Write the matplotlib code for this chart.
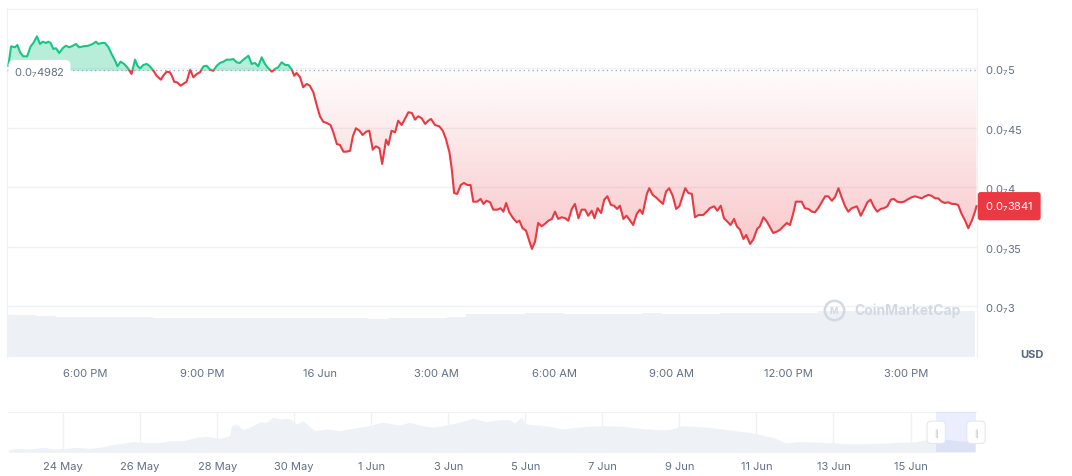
import numpy as np
import matplotlib
matplotlib.use("Agg")
import matplotlib.pyplot as plt
import matplotlib.transforms as mtransforms
from matplotlib.patches import Rectangle

# Precio en unidades de 1e-8 USD (la etiqueta "0.0₇4982" = 0.00000004982)
# Horas contadas desde el 15 Jun 00:00
hours = [
    16.04, 16.11, 16.21, 16.27, 16.34, 16.42, 16.52, 16.61, 16.68, 16.77,
    16.85, 16.92, 17.00, 17.06, 17.12, 17.19, 17.26, 17.34, 17.43, 17.51,
    17.60, 17.69, 17.77, 17.85, 17.96, 18.08, 18.20, 18.28, 18.34, 18.43,
    18.51, 18.60, 18.68, 18.77, 18.83, 18.91, 19.00, 19.08, 19.19, 19.28,
    19.34, 19.41, 19.49, 19.58, 19.66, 19.75, 19.83, 19.94, 20.00, 20.09,
    20.17, 20.22, 20.28, 20.35, 20.45, 20.51, 20.60, 20.69, 20.77, 20.86,
    20.94, 21.03, 21.11, 21.20, 21.28, 21.37, 21.45, 21.54, 21.62, 21.73,
    21.79, 21.88, 21.96, 22.05, 22.18, 22.26, 22.35, 22.43, 22.52, 22.60,
    22.69, 22.78, 22.86, 22.94, 23.03, 23.12, 23.20, 23.29, 23.35, 23.41,
    23.50, 23.58, 23.67, 23.75, 23.84, 23.93, 24.01, 24.09, 24.18, 24.28,
    24.35, 24.44, 24.52, 24.61, 24.69, 24.78, 24.85, 24.93, 25.02, 25.10,
    25.19, 25.27, 25.36, 25.44, 25.53, 25.60, 25.70, 25.76, 25.84, 25.93,
    26.01, 26.10, 26.18, 26.27, 26.36, 26.44, 26.52, 26.61, 26.70, 26.78,
    26.85, 26.95, 27.06, 27.15, 27.23, 27.32, 27.38, 27.44, 27.52, 27.61,
    27.69, 27.78, 27.86, 27.93, 28.03, 28.12, 28.19, 28.27, 28.36, 28.44,
    28.55, 28.63, 28.70, 28.77, 28.85, 28.95, 29.04, 29.11, 29.19, 29.28,
    29.36, 29.43, 29.51, 29.59, 29.68, 29.76, 29.85, 29.94, 30.02, 30.10,
    30.19, 30.28, 30.36, 30.45, 30.53, 30.62, 30.70, 30.79, 30.87, 30.96,
    31.03, 31.11, 31.20, 31.28, 31.36, 31.45, 31.53, 31.61, 31.68, 31.77,
    31.85, 31.94, 32.02, 32.11, 32.19, 32.26, 32.37, 32.43, 32.52, 32.60,
    32.69, 32.78, 32.86, 32.94, 33.03, 33.12, 33.20, 33.35, 33.43, 33.52,
    33.60, 33.69, 33.81, 33.90, 33.98, 34.09, 34.17, 34.26, 34.34, 34.43,
    34.51, 34.60, 34.67, 34.75, 34.84, 34.91, 35.01, 35.09, 35.19, 35.26,
    35.35, 35.44, 35.52, 35.60, 35.69, 35.78, 35.86, 35.95, 36.03, 36.12,
    36.18, 36.33, 36.41, 36.50, 36.59, 36.67, 36.75, 36.84, 36.93, 37.01,
    37.10, 37.18, 37.27, 37.35, 37.44, 37.52, 37.61, 37.74, 37.84, 37.92,
    38.01, 38.09, 38.18, 38.26, 38.35, 38.43, 38.52, 38.61, 38.69, 38.77,
    38.86, 38.95, 39.03, 39.14, 39.23, 39.31, 39.40, 39.48, 39.57, 39.65,
    39.74, 39.82, 39.91, 39.99, 40.08, 40.17, 40.25, 40.33, 40.42, 40.51,
    40.59, 40.68, 40.76, 40.80,
]
price = [
    5.021, 5.184, 5.176, 5.195, 5.134, 5.100, 5.100, 5.184, 5.212, 5.268,
    5.204, 5.223, 5.212, 5.223, 5.212, 5.162, 5.168, 5.128, 5.168, 5.189,
    5.176, 5.189, 5.204, 5.176, 5.184, 5.189, 5.204, 5.223, 5.204, 5.212,
    5.212, 5.176, 5.120, 5.063, 5.016, 5.055, 5.036, 5.008, 4.952, 5.072,
    5.021, 4.999, 5.027, 5.036, 5.016, 4.979, 4.937, 4.904, 4.937, 4.971,
    4.966, 4.937, 4.887, 4.882, 4.853, 4.868, 4.887, 4.988, 4.924, 4.952,
    4.966, 5.016, 5.021, 4.988, 4.979, 5.021, 5.044, 5.055, 5.072, 5.072,
    5.078, 5.050, 5.044, 5.072, 5.105, 5.036, 5.044, 5.016, 5.092, 5.036,
    4.999, 4.971, 4.994, 5.008, 5.050, 5.027, 5.027, 4.988, 4.937, 4.960,
    4.925, 4.840, 4.868, 4.853, 4.798, 4.685, 4.596, 4.551, 4.540, 4.523,
    4.462, 4.364, 4.355, 4.299, 4.299, 4.307, 4.428, 4.496, 4.475, 4.439,
    4.467, 4.475, 4.316, 4.344, 4.328, 4.196, 4.400, 4.355, 4.475, 4.462,
    4.559, 4.523, 4.574, 4.630, 4.624, 4.568, 4.596, 4.580, 4.532, 4.559,
    4.574, 4.523, 4.512, 4.475, 4.406, 4.294, 4.154, 3.952, 3.944, 4.019,
    4.036, 4.019, 4.019, 3.879, 3.879, 3.902, 3.860, 3.887, 3.874, 3.812,
    3.812, 3.824, 3.795, 3.868, 3.790, 3.740, 3.706, 3.719, 3.656, 3.635,
    3.551, 3.482, 3.543, 3.700, 3.672, 3.692, 3.719, 3.734, 3.795, 3.734,
    3.748, 3.740, 3.719, 3.818, 3.860, 3.740, 3.812, 3.812, 3.761, 3.803,
    3.740, 3.824, 3.784, 3.896, 3.924, 3.851, 3.845, 3.818, 3.845, 3.734,
    3.761, 3.719, 3.683, 3.776, 3.812, 3.776, 3.944, 3.992, 3.935, 3.916,
    3.887, 3.860, 3.963, 3.992, 3.929, 3.818, 3.840, 3.992, 3.952, 3.944,
    3.748, 3.767, 3.767, 3.795, 3.824, 3.840, 3.803, 3.845, 3.740, 3.711,
    3.683, 3.734, 3.672, 3.644, 3.566, 3.599, 3.524, 3.560, 3.650, 3.672,
    3.748, 3.711, 3.664, 3.616, 3.627, 3.644, 3.672, 3.700, 3.683, 3.790,
    3.879, 3.879, 3.824, 3.818, 3.795, 3.790, 3.824, 3.874, 3.924, 3.924,
    3.887, 3.916, 3.992, 3.916, 3.840, 3.795, 3.824, 3.840, 3.761, 3.812,
    3.874, 3.896, 3.832, 3.795, 3.818, 3.824, 3.840, 3.896, 3.902, 3.879,
    3.874, 3.879, 3.896, 3.916, 3.924, 3.916, 3.907, 3.924, 3.935, 3.929,
    3.907, 3.907, 3.879, 3.868, 3.874, 3.860, 3.860, 3.851, 3.776, 3.719,
    3.656, 3.719, 3.795, 3.841,
]
precio_base = 4.982

# Volumen (millones USD) cada media hora desde las 16:00
vol_hours = np.arange(16.0, 40.6, 0.5)
volumen = [
    2.15, 2.15, 2.08, 2.03, 2.02, 2.03, 2.02, 2.02, 2.00, 2.00,
    2.01, 2.00, 1.99, 2.00, 2.00, 1.99, 1.98, 1.97, 1.97, 1.96,
    1.97, 1.97, 1.98, 2.05, 2.18, 2.20, 2.21, 2.22, 2.22, 2.21,
    2.20, 2.20, 2.21, 2.22, 2.21, 2.20, 2.21, 2.22, 2.23, 2.25,
    2.26, 2.26, 2.33, 2.35, 2.36, 2.36, 2.36, 2.37, 2.37, 2.36,
]

# Navegador: días desde el 24 May y nivel relativo
nav_dias = [
    -1.42, -1.20, -0.94, -0.68, -0.51, -0.25, 0.10, 0.36, 0.70, 0.96,
    1.22, 1.56, 1.82, 2.08, 2.43, 2.77, 3.12, 3.47, 3.73, 4.07,
    4.33, 4.37, 4.50, 4.67, 4.93, 5.11, 5.28, 5.45, 5.63, 5.88,
    6.06, 6.23, 6.53, 6.84, 7.18, 7.53, 7.87, 8.30, 8.74, 8.99,
    9.25, 9.60, 9.95, 10.29, 10.64, 10.98, 11.33, 11.59, 11.72, 11.89,
    12.02, 12.28, 12.62, 12.97, 13.32, 13.66, 14.01, 14.52, 14.96, 15.39,
    15.73, 16.08, 16.43, 16.77, 17.12, 17.46, 17.81, 18.15, 18.50, 18.76,
    19.02, 19.36, 19.71, 20.05, 20.40, 20.74, 21.09, 21.44, 21.78, 22.13,
    22.39, 22.65, 22.99, 23.34, 23.67,
]
nav_nivel = [
    2.6, 4.0, 3.3, 4.0, 5.0, 3.3, 4.0, 5.0, 4.0, 5.0,
    7.3, 9.3, 10.6, 10.0, 9.3, 11.6, 11.6, 15.0, 16.0, 14.0,
    16.6, 26.6, 28.3, 22.6, 26.6, 30.6, 30.0, 35.0, 33.3, 34.0,
    28.3, 31.6, 21.6, 23.3, 21.6, 24.0, 26.0, 30.0, 27.3, 30.0,
    27.3, 25.0, 27.3, 30.0, 34.0, 30.6, 32.6, 32.6, 29.3, 35.0,
    28.3, 27.3, 26.0, 23.3, 25.0, 26.0, 26.6, 26.0, 24.0, 22.6,
    22.6, 26.6, 26.0, 25.0, 23.3, 21.6, 20.0, 17.3, 14.0, 9.3,
    10.6, 10.6, 10.0, 9.3, 8.6, 8.6, 9.0, 9.3, 10.0, 10.6,
    12.6, 14.0, 12.6, 11.3, 10.6,
]

x_ticks = [18, 21, 24, 27, 30, 33, 36, 39]
x_labels = ["6:00 PM", "9:00 PM", "16 Jun", "3:00 AM", "6:00 AM", "9:00 AM", "12:00 PM", "3:00 PM"]
y_ticks = [3.0, 3.5, 4.0, 4.5, 5.0, 5.5]
nav_ticks = [0, 2, 4, 6, 8, 10, 12, 14, 16, 18, 20, 22]
nav_labels = ["24 May", "26 May", "28 May", "30 May", "1 Jun", "3 Jun",
              "5 Jun", "7 Jun", "9 Jun", "11 Jun", "13 Jun", "15 Jun"]

VERDE = "#16c784"
ROJO = "#ea3943"
GRIS = "#616e85"
LINEA = "#eff2f5"


def etiqueta(v):
    # formato CoinMarketCap: 0.0 + subíndice con el número de ceros
    return "0.0$_7$" + f"{v:g}".replace(".", "")


def main():
    plt.rcParams["font.family"] = ["Inter", "DejaVu Sans"]
    plt.rcParams["mathtext.default"] = "regular"

    h = np.array(hours)
    p = np.array(price)

    fig = plt.figure(figsize=(10.72, 4.77), dpi=100)
    pos = [7 / 1072, 119 / 477, 970 / 1072, 349 / 477]

    # Volumen (eje de fondo)
    ax_vol = fig.add_axes(pos)
    ax_vol.bar(vol_hours, volumen, width=0.5, color="#edf0f4", linewidth=0)
    ax_vol.set_xlim(16.005, 40.813)
    ax_vol.set_ylim(0, max(volumen) * 349 / 46.5)
    ax_vol.axis("off")

    # Precio
    ax = fig.add_axes(pos)
    ax.set_facecolor("none")
    ax.set_xlim(16.005, 40.813)
    ax.set_ylim(2.574, 5.506)

    ax.fill_between(h, precio_base, np.maximum(p, precio_base),
                    color=VERDE, alpha=0.3, linewidth=0, zorder=2)

    poly = ax.fill_between(h, np.minimum(p, precio_base), precio_base,
                           facecolor="none", edgecolor="none")
    img = np.zeros((256, 1, 4))
    img[..., 0], img[..., 1], img[..., 2] = 234 / 255, 57 / 255, 67 / 255
    img[:, 0, 3] = np.linspace(0.015, 0.28, 256)
    im = ax.imshow(img, extent=[h[0], h[-1], p.min(), precio_base],
                   aspect="auto", origin="upper", zorder=2, interpolation="bilinear")
    im.set_clip_path(poly.get_paths()[0], transform=ax.transData)

    ax.axhline(precio_base, color="#9aa3b5", lw=0.9, linestyle=(0, (1, 2.5)), zorder=3)

    arriba = Rectangle((h[0] - 1, precio_base), 30, 10, transform=ax.transData)
    abajo = Rectangle((h[0] - 1, precio_base - 10), 30, 10, transform=ax.transData)
    lv, = ax.plot(h, p, color=VERDE, lw=1.5, zorder=4, solid_joinstyle="round")
    lv.set_clip_path(arriba)
    lr, = ax.plot(h, p, color=ROJO, lw=1.5, zorder=4, solid_joinstyle="round")
    lr.set_clip_path(abajo)

    ax.set_xlim(16.005, 40.813)
    ax.set_ylim(2.574, 5.506)

    ax.yaxis.tick_right()
    ax.set_yticks(y_ticks)
    ax.set_yticklabels([etiqueta(v) if v < 5.4 else "" for v in y_ticks])
    ax.set_xticks(x_ticks)
    ax.set_xticklabels(x_labels)
    ax.tick_params(axis="y", length=0, pad=5.5, labelsize=8, colors=GRIS)
    ax.tick_params(axis="x", length=0, pad=8, labelsize=8, colors=GRIS)
    ax.grid(axis="y", color=LINEA, lw=1)
    ax.set_axisbelow(True)
    for lado in ["top", "bottom"]:
        ax.spines[lado].set_visible(False)
    for lado in ["left", "right"]:
        ax.spines[lado].set_color(LINEA)

    trans = mtransforms.blended_transform_factory(ax.transAxes, ax.transData)
    ax.annotate(etiqueta(precio_base), xy=(0, precio_base), xycoords=trans,
                xytext=(7, -2), textcoords="offset pixels", ha="left", va="center",
                fontsize=8, color=GRIS, zorder=5,
                bbox=dict(boxstyle="round,pad=0.5,rounding_size=0.5", fc="white", ec="none"))
    ax.annotate(etiqueta(p[-1]), xy=(1, p[-1]), xycoords=trans,
                xytext=(8, 0), textcoords="offset pixels", ha="left", va="center",
                fontsize=8, color="white", zorder=6, annotation_clip=False,
                bbox=dict(boxstyle="round,pad=0.65,rounding_size=0.25", fc=ROJO, ec="none"))

    # Marca de agua
    ax.text(0.928, 0.134, "CoinMarketCap", transform=ax.transAxes, ha="center",
            va="center", fontsize=10, fontweight="bold", color="#d3d9e3", zorder=1)
    ax.plot([0.8526], [0.134], marker="o", ms=14, mfc="none", mec="#d3d9e3",
            mew=1.8, transform=ax.transAxes, zorder=1)
    ax.text(0.8526, 0.134, "M", transform=ax.transAxes, ha="center", va="center",
            fontsize=6.5, fontweight="bold", color="#d3d9e3", zorder=1)

    fig.text(1032 / 1072, 1 - 355 / 477, "USD", ha="center", va="center",
             fontsize=8, fontweight="bold", color="#58667e")

    # Navegador
    ax_nav = fig.add_axes([8 / 1072, 23.7 / 477, 968 / 1072, 40 / 477])
    ax_nav.set_xlim(-1.43, 23.70)
    ax_nav.set_ylim(0, 40)
    ax_nav.fill_between(nav_dias, 0, nav_nivel, color="#eef1f5", linewidth=0, zorder=2)
    sel_ini = 22 + h[0] / 24
    sel_fin = 22 + h[-1] / 24
    ax_nav.axvspan(sel_ini, sel_fin, color="#3861fb", alpha=0.1, lw=0, zorder=3)
    ax_nav.set_xticks(nav_ticks)
    ax_nav.set_xticklabels(nav_labels)
    ax_nav.set_yticks([])
    ax_nav.tick_params(axis="x", length=0, pad=6, labelsize=8, colors=GRIS)
    ax_nav.grid(axis="x", color=LINEA, lw=1)
    ax_nav.set_axisbelow(True)
    for lado in ["left", "right", "bottom"]:
        ax_nav.spines[lado].set_visible(False)
    ax_nav.spines["top"].set_color(LINEA)
    tnav = mtransforms.blended_transform_factory(ax_nav.transData, ax_nav.transAxes)
    for xs in [sel_ini, sel_fin]:
        ax_nav.text(xs, 0.5, "||", transform=tnav, ha="center", va="center",
                    fontsize=5, color="#a6b0c3", zorder=5, clip_on=False,
                    bbox=dict(boxstyle="round,pad=1.0,rounding_size=0.6",
                              fc="white", ec="#e3e7ee", lw=0.8))

    fig.savefig("out.png", dpi=100)
    plt.close(fig)


if __name__ == "__main__":
    main()
